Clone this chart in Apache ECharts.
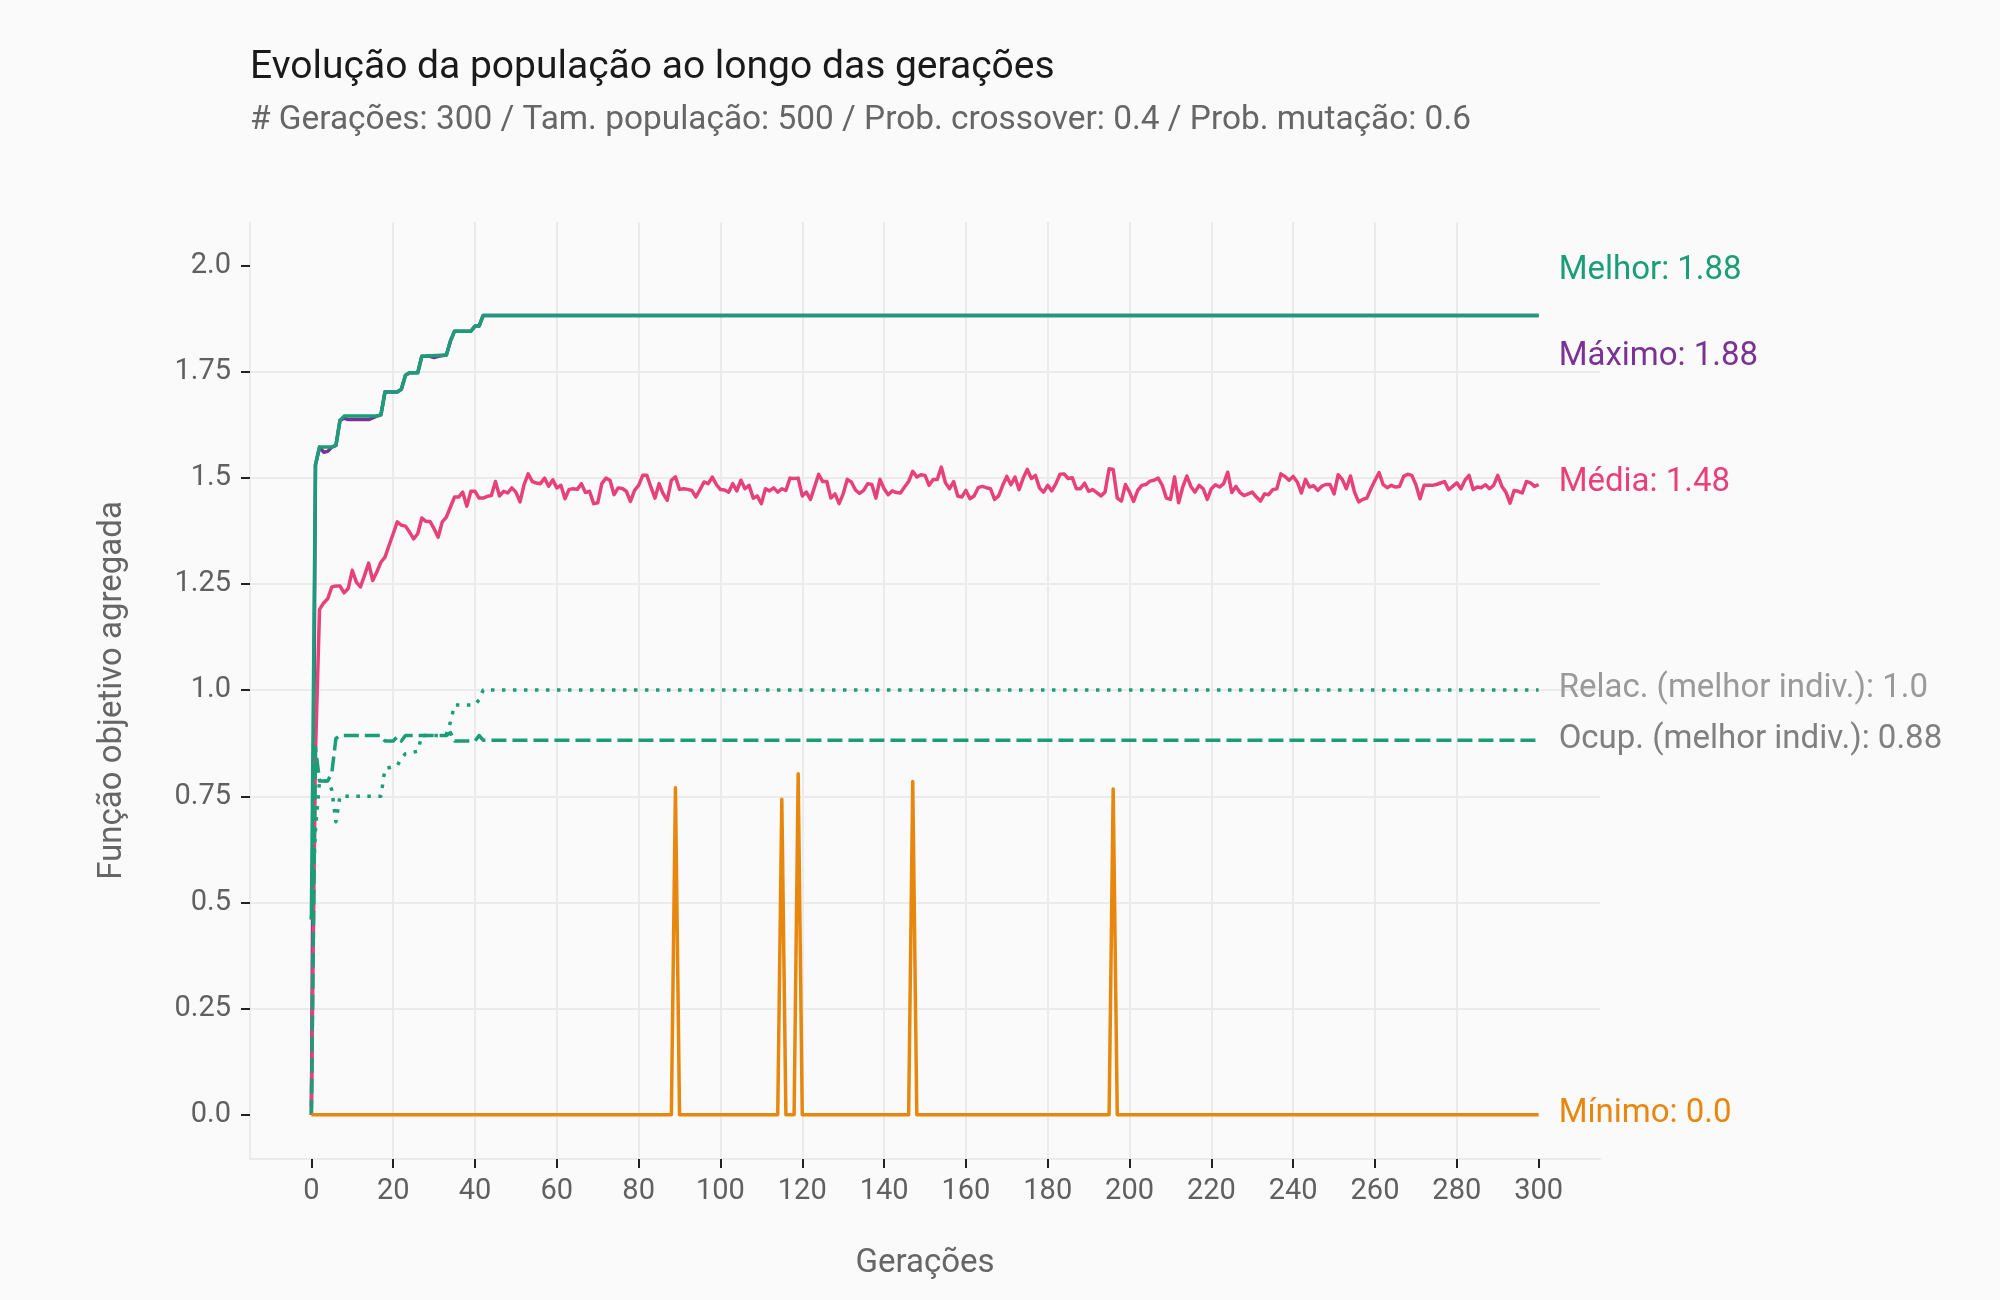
<!DOCTYPE html>
<html>
<head>
<meta charset="utf-8">
<script src="https://cdn.jsdelivr.net/npm/echarts@6/dist/echarts.min.js"></script>
<style>
html, body { margin: 0; padding: 0; background: #fafafa; }
#chart { width: 2000px; height: 1300px; }
</style>
</head>
<body>
<div id="chart"></div>
<script>
// ---------- texts ----------
const titleText = 'Evolução da população ao longo das gerações';
const subtitleText = '# Gerações: 300 / Tam. população: 500 / Prob. crossover: 0.4 / Prob. mutação: 0.6';
const xAxisName = 'Gerações';
const yAxisName = 'Função objetivo agregada';

// ---------- ticks ----------
const xTickValues = [0, 20, 40, 60, 80, 100, 120, 140, 160, 180, 200, 220, 240, 260, 280, 300];
const yTickValues = [0, 0.25, 0.5, 0.75, 1.0, 1.25, 1.5, 1.75, 2.0];
const yTickLabels = ['0.0', '0.25', '0.5', '0.75', '1.0', '1.25', '1.5', '1.75', '2.0'];

// ---------- series labels ----------
const seriesNames = ['Máximo', 'Média', 'Melhor', 'Relac. (melhor indiv.)', 'Ocup. (melhor indiv.)', 'Mínimo'];
const endLabelTexts = ['Máximo: 1.88', 'Média: 1.48', 'Melhor: 1.88', 'Relac. (melhor indiv.): 1.0', 'Ocup. (melhor indiv.): 0.88', 'Mínimo: 0.0'];

// ---------- data: Média, one value per generation 0..300 ----------
const media = [
  0.02, 0.85, 1.19, 1.205, 1.215, 1.243, 1.245, 1.245, 1.229, 1.239,
  1.282, 1.254, 1.243, 1.270, 1.299, 1.258, 1.278, 1.301, 1.313, 1.341,
  1.368, 1.396, 1.388, 1.386, 1.372, 1.356, 1.368, 1.405, 1.397, 1.397,
  1.380, 1.360, 1.396, 1.407, 1.431, 1.4545, 1.4545, 1.466, 1.433, 1.468,
  1.468, 1.452, 1.452, 1.456, 1.458, 1.491, 1.457, 1.468, 1.464, 1.476,
  1.466, 1.443, 1.4835, 1.509, 1.491, 1.4875, 1.486, 1.499, 1.480, 1.495,
  1.476, 1.482, 1.4505, 1.4725, 1.474, 1.4725, 1.486, 1.465, 1.468, 1.439,
  1.441, 1.486, 1.499, 1.494, 1.460, 1.476, 1.4745, 1.468, 1.444, 1.470,
  1.482, 1.5055, 1.5055, 1.478, 1.452, 1.486, 1.462, 1.447, 1.494, 1.502,
  1.4725, 1.474, 1.4725, 1.470, 1.4545, 1.472, 1.490, 1.486, 1.5015, 1.484,
  1.472, 1.471, 1.466, 1.486, 1.469, 1.494, 1.474, 1.482, 1.452, 1.457,
  1.439, 1.474, 1.469, 1.476, 1.466, 1.474, 1.470, 1.499, 1.498, 1.499,
  1.457, 1.466, 1.449, 1.478, 1.508, 1.491, 1.491, 1.452, 1.462, 1.439,
  1.462, 1.496, 1.490, 1.471, 1.463, 1.470, 1.486, 1.484, 1.452, 1.496,
  1.474, 1.460, 1.469, 1.465, 1.464, 1.478, 1.491, 1.515, 1.5015, 1.507,
  1.5055, 1.482, 1.496, 1.496, 1.525, 1.488, 1.474, 1.491, 1.457, 1.4545,
  1.470, 1.4505, 1.457, 1.4765, 1.4795, 1.4765, 1.474, 1.449, 1.457, 1.482,
  1.503, 1.4835, 1.5015, 1.472, 1.499, 1.5195, 1.498, 1.5055, 1.4755, 1.466,
  1.482, 1.469, 1.486, 1.508, 1.509, 1.498, 1.500, 1.474, 1.474, 1.487,
  1.468, 1.472, 1.465, 1.457, 1.466, 1.521, 1.5195, 1.452, 1.445, 1.484,
  1.466, 1.444, 1.470, 1.482, 1.484, 1.492, 1.494, 1.499, 1.482, 1.452,
  1.449, 1.5015, 1.441, 1.478, 1.504, 1.4795, 1.466, 1.482, 1.474, 1.449,
  1.474, 1.4835, 1.478, 1.486, 1.513, 1.465, 1.4795, 1.465, 1.458, 1.462,
  1.466, 1.4545, 1.445, 1.462, 1.460, 1.472, 1.474, 1.509, 1.503, 1.494,
  1.503, 1.490, 1.464, 1.496, 1.478, 1.481, 1.470, 1.480, 1.484, 1.484,
  1.462, 1.507, 1.496, 1.474, 1.504, 1.466, 1.443, 1.449, 1.452, 1.474,
  1.494, 1.512, 1.4835, 1.4765, 1.482, 1.478, 1.4795, 1.503, 1.508, 1.5055,
  1.4835, 1.4505, 1.482, 1.482, 1.482, 1.484, 1.4875, 1.491, 1.472, 1.4795,
  1.488, 1.474, 1.494, 1.5055, 1.472, 1.478, 1.4765, 1.4835, 1.474, 1.482,
  1.5055, 1.480, 1.466, 1.440, 1.470, 1.468, 1.464, 1.491, 1.488, 1.4795,
  1.484
];

// ---------- data: step-like series as [generation, value] at change points ----------
const melhor = [
  [0, 0.46], [1, 1.53], [2, 1.572], [5, 1.572], [6, 1.576], [7, 1.635], [8, 1.645],
  [16, 1.645], [17, 1.648], [18, 1.702], [21, 1.702], [22, 1.708], [23, 1.741],
  [24, 1.747], [26, 1.747], [27, 1.786], [33, 1.789], [34, 1.822], [35, 1.845],
  [39, 1.845], [40, 1.857], [41, 1.857], [42, 1.882], [300, 1.882]
];
const maximo = [
  [0, 0.0], [1, 1.53], [2, 1.572], [3, 1.56], [4, 1.562], [5, 1.572], [6, 1.576],
  [7, 1.635], [8, 1.64], [9, 1.637], [14, 1.637], [15, 1.641], [16, 1.645], [17, 1.648],
  [18, 1.702], [21, 1.702], [22, 1.708], [23, 1.741], [24, 1.747], [26, 1.747],
  [27, 1.786], [29, 1.786], [30, 1.783], [31, 1.786], [33, 1.789], [34, 1.822],
  [35, 1.845], [39, 1.845], [40, 1.857], [41, 1.857], [42, 1.882], [300, 1.882]
];
const relac = [
  [0, 0.46], [1, 0.67], [2, 0.786], [4, 0.786], [5, 0.765], [6, 0.69], [7, 0.75],
  [17, 0.75], [18, 0.815], [21, 0.822], [22, 0.84], [23, 0.85], [26, 0.856],
  [27, 0.893], [32, 0.893], [33, 0.896], [34, 0.925], [35, 0.965], [40, 0.965],
  [41, 0.977], [42, 1.0], [300, 1.0]
];
const ocup = [
  [0, 0.0], [1, 0.865], [2, 0.786], [4, 0.786], [5, 0.805], [6, 0.886], [7, 0.893],
  [17, 0.893], [18, 0.88], [20, 0.88], [21, 0.89], [22, 0.88], [23, 0.893],
  [33, 0.893], [34, 0.9], [35, 0.88], [40, 0.88], [41, 0.893], [42, 0.882], [300, 0.882]
];
const minimo = [
  [0, 0], [88, 0], [89, 0.77], [90, 0], [114, 0], [115, 0.743], [116, 0], [118, 0],
  [119, 0.803], [120, 0], [146, 0], [147, 0.785], [148, 0], [195, 0], [196, 0.767],
  [197, 0], [300, 0]
];

// ---------- build ----------
const FONT = 'Roboto';
const mediaPairs = media.map((v, i) => [i, v]);

function lineSeries(name, data, color, labelText, labelColor, labelOffsetY, lineType, z) {
  return {
    name: name,
    type: 'line',
    data: data,
    showSymbol: false,
    symbol: 'none',
    z: z,
    lineStyle: { color: color, width: 3.5, type: lineType, cap: 'butt', join: 'round' },
    endLabel: {
      show: true,
      formatter: labelText,
      color: labelColor,
      fontSize: 33,
      fontFamily: FONT,
      distance: 20,
      offset: [0, labelOffsetY]
    },
    emphasis: { disabled: true }
  };
}

const chart = echarts.init(document.getElementById('chart'), null, { renderer: 'canvas' });

function findLabel(v) {
  for (let i = 0; i < yTickValues.length; i++) {
    if (Math.abs(yTickValues[i] - v) < 1e-6) return yTickLabels[i];
  }
  return '';
}

const option = {
  backgroundColor: '#fafafa',
  animation: false,
  title: [
    {
      text: titleText,
      left: 250, top: 48.5, padding: 0,
      textStyle: { fontFamily: FONT, fontSize: 39, fontWeight: 'normal', color: '#1a1a1a', lineHeight: 39 }
    },
    {
      text: subtitleText,
      left: 250, top: 104.5, padding: 0,
      textStyle: { fontFamily: FONT, fontSize: 33.4, fontWeight: 'normal', color: '#666666', lineHeight: 33 }
    }
  ],
  grid: { left: 250, top: 222, right: 400, bottom: 141, containLabel: false },
  xAxis: {
    type: 'value',
    min: -15, max: 315,
    minInterval: 20, maxInterval: 20, splitNumber: 16,
    name: xAxisName,
    nameLocation: 'middle',
    nameGap: 88,
    nameTextStyle: { fontFamily: FONT, fontSize: 33, color: '#666666' },
    axisLine: { show: true, onZero: false, lineStyle: { color: '#ebebeb', width: 2 } },
    axisTick: { show: true, length: 9, customValues: xTickValues, lineStyle: { color: '#222222', width: 2 } },
    axisLabel: { customValues: xTickValues, fontFamily: FONT, fontSize: 29, color: '#606060', margin: 18 },
    splitLine: { show: true, showMinLine: false, showMaxLine: false, lineStyle: { color: '#ebebeb', width: 2 } }
  },
  yAxis: {
    type: 'value',
    min: -0.104, max: 2.102,
    minInterval: 0.25, maxInterval: 0.25, splitNumber: 9,
    name: yAxisName,
    nameLocation: 'middle',
    nameRotate: 90,
    nameGap: 121,
    nameTextStyle: { fontFamily: FONT, fontSize: 33, color: '#666666' },
    axisLine: { show: true, onZero: false, lineStyle: { color: '#ebebeb', width: 2 } },
    axisTick: { show: true, length: 9, customValues: yTickValues, lineStyle: { color: '#222222', width: 2 } },
    axisLabel: { customValues: yTickValues, formatter: findLabel, fontFamily: FONT, fontSize: 29, color: '#606060', margin: 19 },
    splitLine: { show: true, showMinLine: false, showMaxLine: false, lineStyle: { color: '#ebebeb', width: 2 } }
  },
  series: [
    lineSeries(seriesNames[0], maximo, '#7b3294', endLabelTexts[0], '#7b3294', 41, 'solid', 2),
    lineSeries(seriesNames[1], mediaPairs, '#e7417a', endLabelTexts[1], '#e7417a', -2, 'solid', 3),
    lineSeries(seriesNames[2], melhor, '#1b9e77', endLabelTexts[2], '#1b9e77', -45, 'solid', 4),
    lineSeries(seriesNames[3], relac, '#1b9e77', endLabelTexts[3], '#9a9a9a', -1, [3.5, 7.5], 5),
    lineSeries(seriesNames[4], ocup, '#1b9e77', endLabelTexts[4], '#808080', 0, [15, 6], 6),
    lineSeries(seriesNames[5], minimo, '#e8870e', endLabelTexts[5], '#e8870e', -1, 'solid', 7)
  ]
};
chart.setOption(option);
</script>
</body>
</html>
